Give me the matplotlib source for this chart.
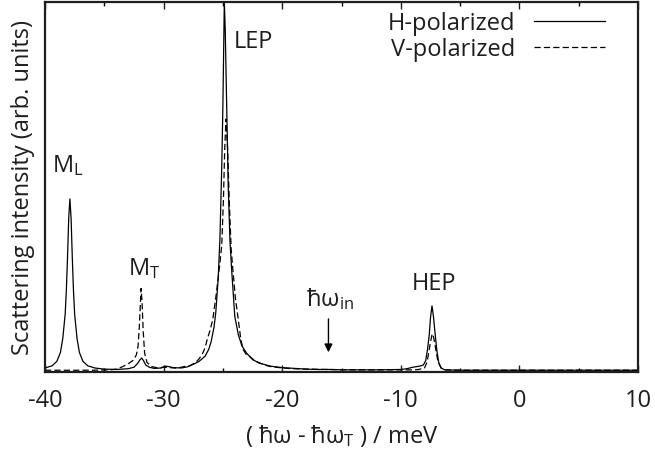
import numpy as np
import matplotlib
matplotlib.use("Agg")
import matplotlib.pyplot as plt
from matplotlib.ticker import MultipleLocator

plt.rcParams['font.family'] = ['Open Sans', 'DejaVu Sans']
plt.rcParams['mathtext.default'] = 'regular'
plt.rcParams['axes.unicode_minus'] = False

# H-polarized spectrum, energy in meV, intensity in arb. units
h_x = [-40.0, -39.4, -39.0, -38.7, -38.5, -38.3, -38.2, -38.1, -38.0, -37.9,
       -37.8, -37.7, -37.6, -37.5, -37.3, -37.1, -36.8, -36.4, -35.8, -35.0,
       -34.0, -33.0, -32.5, -32.2, -32.0, -31.85, -31.7, -31.5, -31.2, -30.8,
       -30.2, -29.9, -29.6, -29.2, -28.5, -28.0, -27.5, -27.0, -26.5, -26.2,
       -26.0, -25.75, -25.6, -25.4, -25.25, -25.1, -25.0, -24.94, -24.88, -24.8,
       -24.7, -24.55, -24.4, -24.25, -24.0, -23.7, -23.4, -23.0, -22.5, -22.0,
       -21.0, -20.0, -19.0, -18.0, -17.0, -16.0, -15.0, -14.0, -12.0, -10.0,
       -9.5, -9.0, -8.6, -8.3, -8.1, -7.9, -7.75, -7.6, -7.5, -7.37,
       -7.25, -7.1, -6.95, -6.8, -6.6, -6.3, -5.0, 0.0, 10.0]
h_y = [0.010, 0.016, 0.028, 0.052, 0.090, 0.155, 0.220, 0.310, 0.415, 0.467,
       0.415, 0.310, 0.220, 0.155, 0.090, 0.052, 0.028, 0.016, 0.010, 0.007,
       0.006, 0.008, 0.012, 0.022, 0.032, 0.037, 0.030, 0.018, 0.012, 0.009,
       0.010, 0.015, 0.014, 0.011, 0.010, 0.013, 0.020, 0.028, 0.042, 0.060,
       0.080, 0.120, 0.160, 0.250, 0.360, 0.550, 0.720, 0.860, 1.000, 0.920,
       0.750, 0.500, 0.350, 0.270, 0.150, 0.100, 0.070, 0.050, 0.033, 0.024,
       0.015, 0.011, 0.009, 0.007, 0.006, 0.006, 0.005, 0.005, 0.005, 0.006,
       0.008, 0.012, 0.014, 0.016, 0.018, 0.030, 0.060, 0.100, 0.145, 0.178,
       0.150, 0.100, 0.055, 0.025, 0.010, 0.005, 0.004, 0.004, 0.004]

# V-polarized spectrum
v_x = [-40.0, -36.0, -34.5, -34.0, -33.5, -33.0, -32.6, -32.3, -32.15, -32.05,
       -31.95, -31.9, -31.82, -31.72, -31.6, -31.4, -31.0, -30.5, -30.0, -29.5,
       -29.0, -28.5, -28.0, -27.8, -27.3, -27.0, -26.7, -26.5, -26.3, -26.1,
       -25.86, -25.6, -25.3, -25.1, -24.95, -24.85, -24.74, -24.6, -24.45, -24.3,
       -24.17, -23.95, -23.7, -23.5, -23.3, -23.0, -22.7, -22.4, -22.0, -21.5,
       -21.0, -20.0, -19.0, -18.0, -16.0, -14.0, -12.0, -10.0, -9.0, -8.5,
       -8.0, -7.8, -7.65, -7.5, -7.37, -7.3, -7.15, -7.0, -6.85, -6.6,
       -6.3, -5.0, 10.0]
v_y = [0.004, 0.004, 0.005, 0.007, 0.013, 0.021, 0.030, 0.045, 0.070, 0.120,
       0.190, 0.225, 0.190, 0.110, 0.050, 0.025, 0.014, 0.010, 0.012, 0.011,
       0.010, 0.012, 0.016, 0.016, 0.025, 0.035, 0.050, 0.065, 0.090, 0.110,
       0.140, 0.200, 0.280, 0.340, 0.470, 0.600, 0.683, 0.600, 0.450, 0.330,
       0.280, 0.200, 0.140, 0.090, 0.060, 0.045, 0.040, 0.032, 0.025, 0.018,
       0.014, 0.010, 0.008, 0.007, 0.006, 0.005, 0.005, 0.005, 0.005, 0.006,
       0.010, 0.025, 0.050, 0.080, 0.100, 0.102, 0.080, 0.050, 0.025, 0.010,
       0.005, 0.004, 0.004]

ink = '#1e1e1e'
fs = 17

fig = plt.figure(figsize=(6.55, 4.6), dpi=100)
ax = fig.add_axes([45/655, 1 - 372.7/460, 593/655, 370/460])

ax.plot(h_x, h_y, color='black', lw=0.9, label='H-polarized')
ax.plot(v_x, v_y, color='black', lw=0.9, dashes=(5, 2.5), label='V-polarized')

ax.set_xlim(-40, 10)
ax.set_ylim(0, 1.0)
ax.set_yticks([])
ax.xaxis.set_major_locator(MultipleLocator(10))
ax.xaxis.set_minor_locator(MultipleLocator(5))
ax.tick_params(axis='x', which='major', direction='in', length=5, width=1, top=True,
               labelsize=fs, pad=12, colors=ink)
ax.tick_params(axis='x', which='minor', direction='in', length=3, width=1, top=True)
for s in ax.spines.values():
    s.set_linewidth(1.6)
    s.set_color(ink)

ax.set_xlabel('( ħω - ħω$_T$ ) / meV', fontsize=fs, color=ink, labelpad=7)
ax.set_ylabel('Scattering intensity (arb. units)', fontsize=fs, color=ink, labelpad=7)

# peak labels
ax.text(-38.1, 0.56, '$M_L$', fontsize=fs, ha='center', va='center', color=ink)
ax.text(-31.6, 0.28, '$M_T$', fontsize=fs, ha='center', va='center', color=ink)
ax.text(-22.4, 0.895, 'LEP', fontsize=fs, ha='center', va='center', color=ink)
ax.text(-7.24, 0.24, 'HEP', fontsize=fs, ha='center', va='center', color=ink)
ax.text(-18.0, 0.2, 'ħω$_{in}$', fontsize=fs, ha='left', va='center', color=ink)
ax.annotate('', xy=(-16.1, 0.045), xytext=(-16.1, 0.15),
            arrowprops=dict(arrowstyle='-|>', color='black', lw=1, mutation_scale=12))

leg = ax.legend(loc='upper right', bbox_to_anchor=(0.944, 0.975), frameon=False,
                markerfirst=False, fontsize=fs, handlelength=3.0, handletextpad=0.8,
                labelspacing=0.1, borderpad=0, borderaxespad=0)
for t in leg.get_texts():
    t.set_color(ink)

fig.savefig('out.png', dpi=100)
